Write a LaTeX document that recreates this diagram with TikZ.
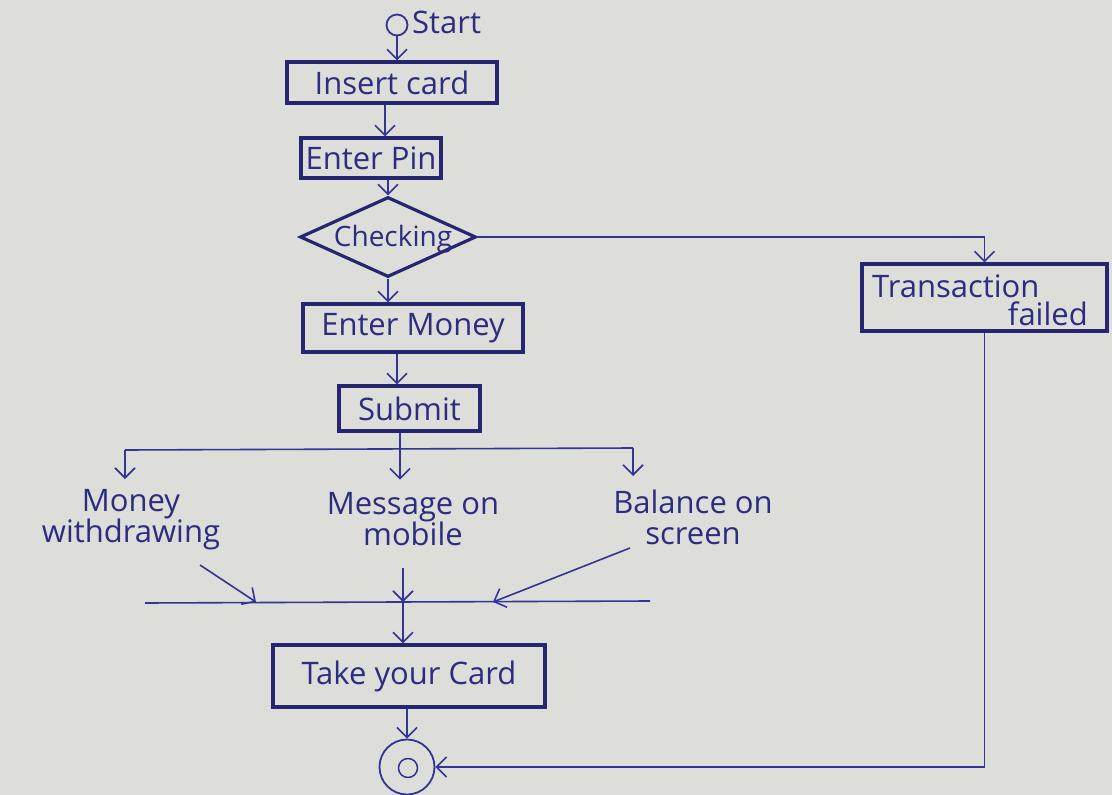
\documentclass[tikz,border=0pt]{standalone}
\usepackage{fontspec}
\setmainfont{Open Sans}
\usetikzlibrary{arrows.meta,shapes.geometric}
\definecolor{paper}{RGB}{221,221,217}
\definecolor{boxink}{RGB}{38,38,112}
\definecolor{lineink}{RGB}{52,52,150}
\definecolor{textink}{RGB}{44,44,128}
\begin{document}
\begin{tikzpicture}[x=1pt,y=-1pt,
  stepbox/.style={draw=boxink,line width=3.2pt,rectangle,inner sep=0pt,
    text=textink,font=\fontsize{31}{34}\selectfont},
  link/.style={draw=lineink,line width=1.6pt},
  arr/.style={link,-{Straight Barb[length=10pt,width=20pt,line width=1.6pt]}},
  lbl/.style={text=textink,font=\fontsize{31}{31}\selectfont,align=center,inner sep=0pt},
  ring/.style={circle,draw=lineink,line width=1.8pt,inner sep=0pt}]
\fill[paper] (0,0) rectangle (1112,795);
\useasboundingbox (0,0) rectangle (1112,795);

% main column
\node[ring,minimum size=21pt] (start) at (397,25) {};
\node[lbl,anchor=west] (starttxt) at (412,22) {Start};
\node[stepbox,minimum width=210pt,minimum height=41pt] (insert) at (392,82.5) {Insert card};
\node[stepbox,minimum width=140pt,minimum height=40pt] (pin) at (371,158) {Enter Pin};
\node[diamond,draw=boxink,line width=3.2pt,minimum width=176pt,minimum height=80pt,inner sep=0pt] (check) at (388,237) {};
\node[lbl,font=\fontsize{28}{28}\selectfont] (checktxt) at (393,239) {Checking};
\node[stepbox,minimum width=220pt,minimum height=48pt] (money) at (413,328) {Enter Money};
\node[stepbox,minimum width=141pt,minimum height=45pt] (submit) at (409.5,408.5) {Submit};

% failure branch
\node[stepbox,minimum width=245pt,minimum height=67pt] (tf) at (984.5,297.5) {};
\node[lbl,anchor=west] (tf1) at (872,286) {Transaction};
\node[lbl,anchor=east] (tf2) at (1088,314) {failed};

% fork bar and its three outcomes
\coordinate (forkL) at (125,450);
\coordinate (forkR) at (633,448);
\coordinate (forkM) at (400,449);
\coordinate (pinx) at (385,0);
\draw[link] (forkL) -- (forkR);
\node[lbl] (wd) at (131,520) {Money\\withdrawing};
\node[lbl] (msg) at (413,519) {Message on\\mobile};
\node[lbl] (bal) at (693,517) {Balance on\\screen};
\draw[arr] (forkL) -- ++(0,29);
\draw[arr] (submit.south -| forkM) -- ++(0,47);
\draw[arr] (forkR) -- ++(0,28);

% join bar
\coordinate (joinL) at (145,603);
\coordinate (joinR) at (650,601);
\coordinate (joinM) at (403,602);
\coordinate (wdtip) at (256,602);
\coordinate (baltip) at (493,602);
\coordinate (wdtail) at (200,565);
\coordinate (msgtail) at (403,568);
\coordinate (baltail) at (630,548);
\draw[link] (joinL) -- (joinR);
\draw[arr] (wdtail) -- (wdtip);
\draw[arr] (msgtail) -- (joinM);
\draw[arr] (baltail) -- (baltip);

\node[stepbox,minimum width=272pt,minimum height=62pt] (take) at (409,676) {Take your Card};
\node[ring,minimum size=55pt] (end) at (407,767) {};
\node[ring,minimum width=19pt,minimum height=19pt,line width=1.5pt] (endin) at (408,768) {};

% connectors
\draw[arr] (start) -- (start |- insert.north);
\draw[arr] (insert.south -| pinx) -- (pin.north -| pinx);
\draw[arr] (pin.south -| check.north) -- (check.north);
\draw[arr] (check.south) -- (check.south |- money.north);
\draw[arr] (money.south -| start) -- (submit.north -| start);
\draw[arr] (joinM) -- (joinM |- take.north);
\draw[arr] (take.south -| end.north) -- (end.north);
\draw[link] (check.east) -- (check.east -| tf.north);
\draw[arr] (check.east -| tf.north) -- (tf.north);
\draw[link] (tf.south) -- (tf.south |- end.east);
\draw[arr] (tf.south |- end.east) -- (end.east);
\end{tikzpicture}
\end{document}
